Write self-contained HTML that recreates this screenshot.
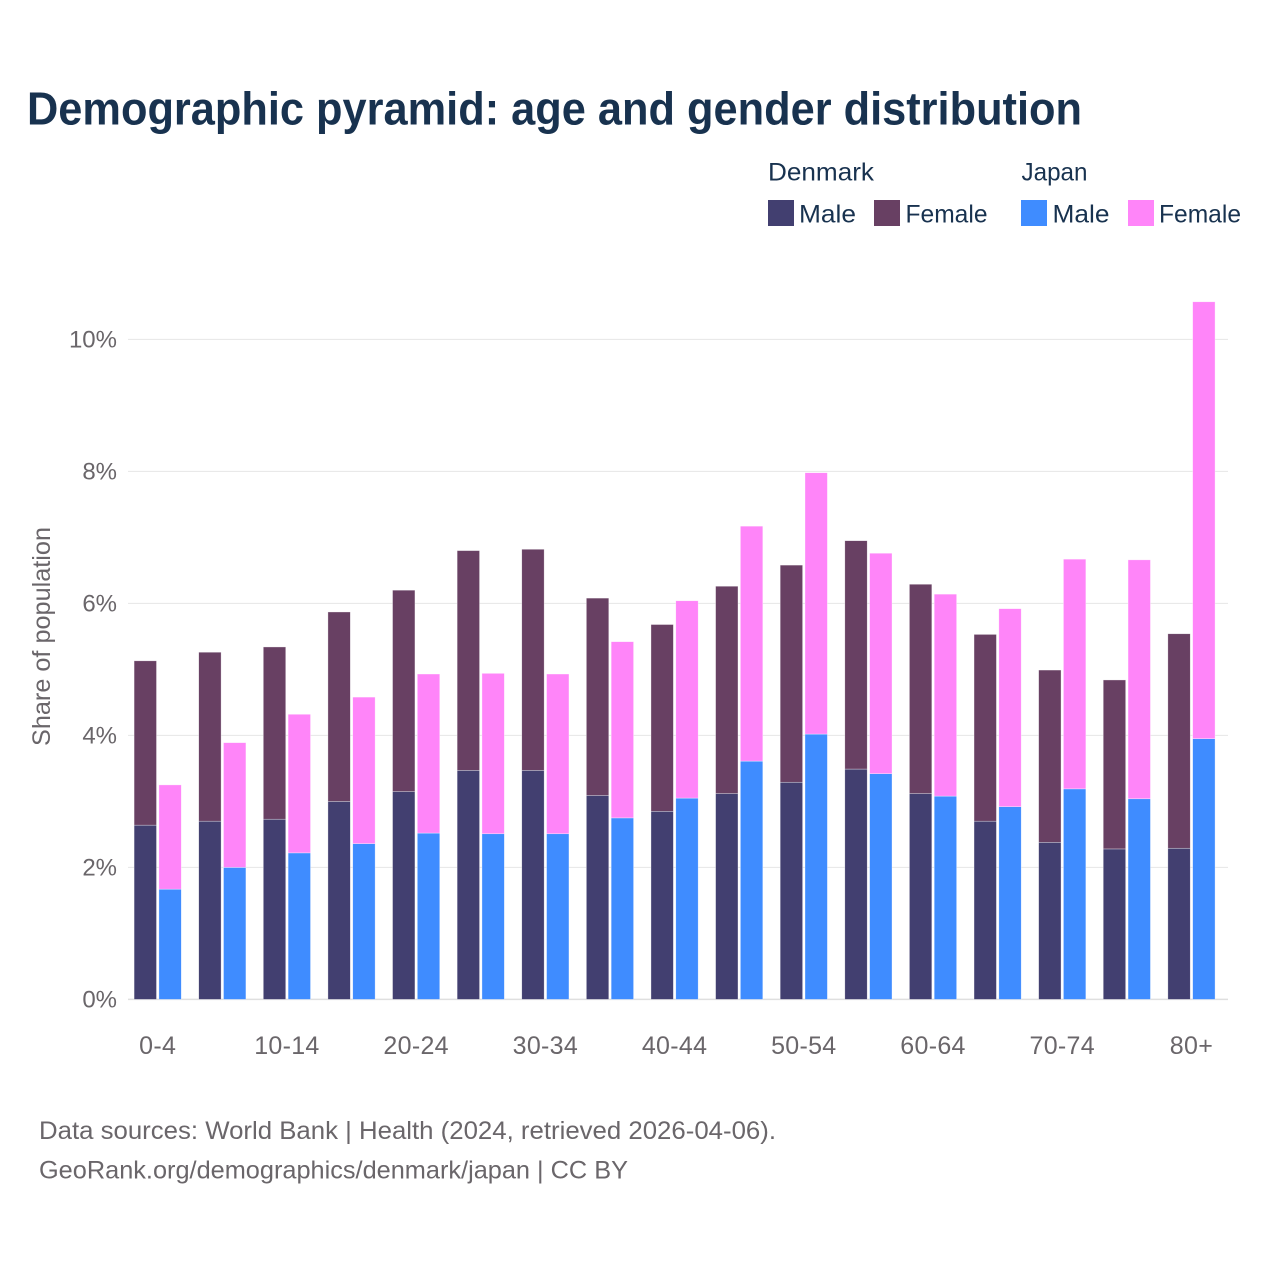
<!DOCTYPE html>
<html lang="en">
<head>
<meta charset="utf-8">
<title>Demographic pyramid: age and gender distribution</title>
<style>
html,body{margin:0;padding:0;background:#fff;width:1280px;height:1280px;overflow:hidden}
svg{display:block}
text{font-family:"Liberation Sans",sans-serif}
.dark{fill:#18324f}
.grey{fill:#6a666a}
</style>
</head>
<body>
<svg id="chart" xmlns="http://www.w3.org/2000/svg" width="1280" height="1280" viewBox="0 0 1280 1280">
  <rect x="0" y="0" width="1280" height="1280" fill="#ffffff"/>
  <text class="dark" x="27" y="124.5" font-size="46" font-weight="700" textLength="1055" lengthAdjust="spacingAndGlyphs">Demographic pyramid: age and gender distribution</text>

  <g>
    <text class="dark" x="768" y="180.5" font-size="25" textLength="106" lengthAdjust="spacingAndGlyphs">Denmark</text>
    <text class="dark" x="1021.5" y="180.5" font-size="25" textLength="66" lengthAdjust="spacingAndGlyphs">Japan</text>
    <rect x="768" y="200" width="26" height="26" fill="#423f70"/>
    <text class="dark" x="799" y="222.5" font-size="25" textLength="57" lengthAdjust="spacingAndGlyphs">Male</text>
    <rect x="874" y="200" width="26" height="26" fill="#684063"/>
    <text class="dark" x="905.5" y="222.5" font-size="25" textLength="82" lengthAdjust="spacingAndGlyphs">Female</text>
    <rect x="1021" y="200" width="26" height="26" fill="#3f8cff"/>
    <text class="dark" x="1052.5" y="222.5" font-size="25" textLength="57" lengthAdjust="spacingAndGlyphs">Male</text>
    <rect x="1128" y="200" width="26" height="26" fill="#ff85f9"/>
    <text class="dark" x="1159" y="222.5" font-size="25" textLength="82" lengthAdjust="spacingAndGlyphs">Female</text>
  </g>

  <g id="grid"></g>
  <g id="bars"></g>
  <g id="y-ticks"></g>
  <g id="x-ticks"></g>

  <text class="grey" transform="translate(50 746) rotate(-90)" x="0" y="0" font-size="25" textLength="219" lengthAdjust="spacingAndGlyphs">Share of population</text>

  <text class="grey" x="39" y="1139" font-size="25" textLength="737" lengthAdjust="spacingAndGlyphs">Data sources: World Bank | Health (2024, retrieved 2026-04-06).</text>
  <text class="grey" x="39" y="1178.5" font-size="25" textLength="589" lengthAdjust="spacingAndGlyphs">GeoRank.org/demographics/denmark/japan | CC BY</text>
</svg>
<script>
const ageGroups = ["0-4","5-9","10-14","15-19","20-24","25-29","30-34","35-39","40-44","45-49","50-54","55-59","60-64","65-69","70-74","75-79","80+"];
const xTickLabels = ["0-4","10-14","20-24","30-34","40-44","50-54","60-64","70-74","80+"];
const yTickValues = [0,2,4,6,8,10];
const denmarkMale = [2.64,2.70,2.73,3.00,3.15,3.47,3.47,3.09,2.85,3.12,3.29,3.49,3.12,2.70,2.38,2.28,2.29];
const denmarkFemale = [2.49,2.56,2.61,2.87,3.05,3.33,3.35,2.99,2.83,3.14,3.29,3.46,3.17,2.83,2.61,2.56,3.25];
const japanMale = [1.67,2.00,2.22,2.36,2.52,2.51,2.51,2.75,3.05,3.61,4.02,3.42,3.08,2.92,3.19,3.04,3.95];
const japanFemale = [1.58,1.89,2.10,2.22,2.41,2.43,2.42,2.67,2.99,3.56,3.96,3.34,3.06,3.00,3.48,3.62,6.62];

const SVG_NS = "http://www.w3.org/2000/svg";
const plotLeft = 128, plotRight = 1228, baseY = 999.4, pxPerUnit = 66;
const firstGroupCenter = 157.7, groupStep = 64.61, barWidth = 22.4, barGap = 2.4;

function yScale(v) { return baseY - v * pxPerUnit; }
function groupCenter(i) { return firstGroupCenter + i * groupStep; }
function barX(i, side) { return side === 0 ? groupCenter(i) - barGap / 2 - barWidth : groupCenter(i) + barGap / 2; }

const gridLayer = document.getElementById("grid");
yTickValues.forEach(function (t) {
  const line = document.createElementNS(SVG_NS, "line");
  line.setAttribute("x1", plotLeft);
  line.setAttribute("x2", plotRight);
  line.setAttribute("y1", yScale(t));
  line.setAttribute("y2", yScale(t));
  line.setAttribute("stroke", t === 0 ? "#dfdfdf" : "#e6e6e6");
  line.setAttribute("stroke-width", t === 0 ? 1.5 : 1);
  
  
  gridLayer.appendChild(line);
});

const barLayer = document.getElementById("bars");
function drawSegment(i, side, from, to, color, name) {
  const r = document.createElementNS(SVG_NS, "rect");
  r.setAttribute("x", barX(i, side));
  r.setAttribute("y", yScale(to));
  r.setAttribute("width", barWidth);
  r.setAttribute("height", yScale(from) - yScale(to));
  r.setAttribute("fill", color);
  r.setAttribute("stroke", "#ffffff");
  r.setAttribute("stroke-opacity", "0.55");
  r.setAttribute("stroke-width", "0.6");
  
  
  barLayer.appendChild(r);
}
ageGroups.forEach(function (group, i) {
  drawSegment(i, 0, 0, denmarkMale[i], "#423f70", "bar-denmark-male-" + group);
  drawSegment(i, 0, denmarkMale[i], denmarkMale[i] + denmarkFemale[i], "#684063", "bar-denmark-female-" + group);
  drawSegment(i, 1, 0, japanMale[i], "#3f8cff", "bar-japan-male-" + group);
  drawSegment(i, 1, japanMale[i], japanMale[i] + japanFemale[i], "#ff85f9", "bar-japan-female-" + group);
});

const yTickLayer = document.getElementById("y-ticks");
yTickValues.forEach(function (t) {
  const label = document.createElementNS(SVG_NS, "text");
  label.setAttribute("x", 117);
  label.setAttribute("y", yScale(t) + 8.3);
  label.setAttribute("text-anchor", "end");
  label.setAttribute("font-size", "24");
  label.setAttribute("class", "grey");
  
  
  label.textContent = t + "%";
  yTickLayer.appendChild(label);
});

const xTickLayer = document.getElementById("x-ticks");
xTickLabels.forEach(function (tick) {
  const label = document.createElementNS(SVG_NS, "text");
  label.setAttribute("x", groupCenter(ageGroups.indexOf(tick)));
  label.setAttribute("y", 1054);
  label.setAttribute("text-anchor", "middle");
  label.setAttribute("font-size", "25");
  label.setAttribute("letter-spacing", "0.3");
  label.setAttribute("class", "grey");
  
  
  label.textContent = tick;
  xTickLayer.appendChild(label);
});
</script>
</body>
</html>
